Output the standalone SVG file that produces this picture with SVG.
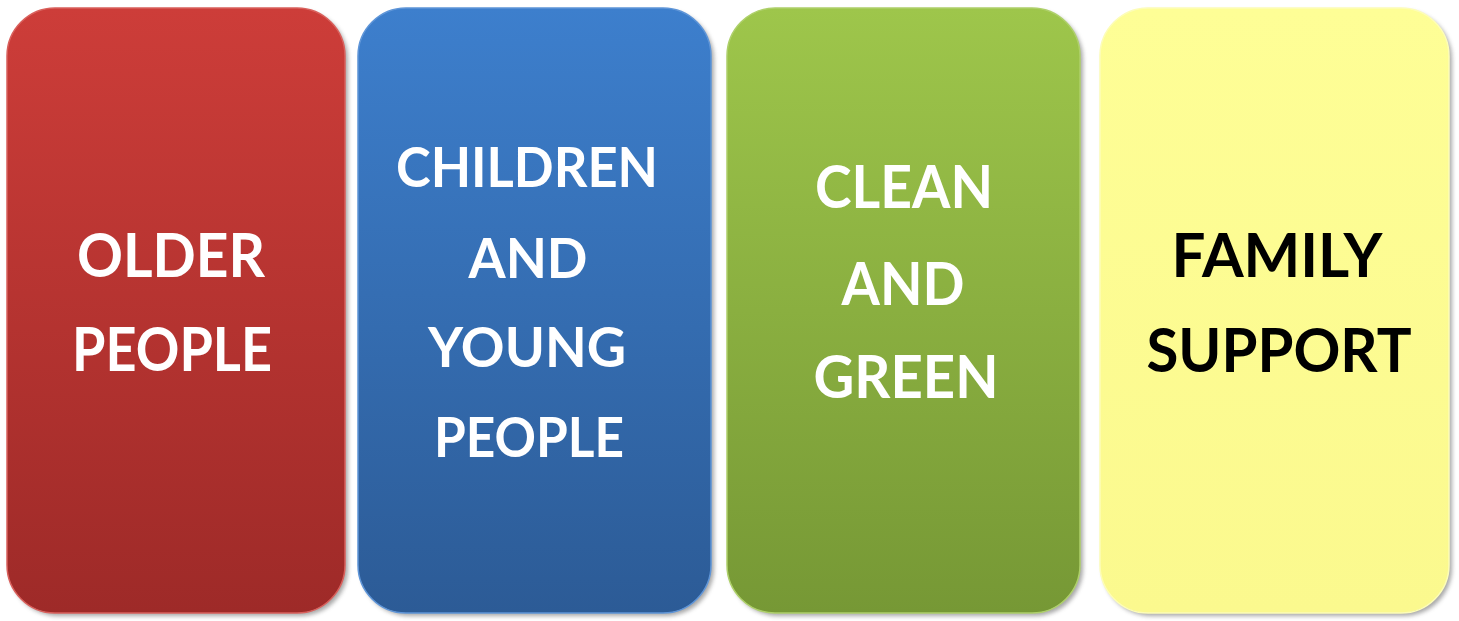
<svg xmlns="http://www.w3.org/2000/svg" width="1459" height="621" viewBox="0 0 1459 621">
  <defs>
    <linearGradient id="gRed" x1="0" y1="0" x2="0" y2="1">
      <stop offset="0" stop-color="#cd3d39"/>
      <stop offset="1" stop-color="#9e2a28"/>
    </linearGradient>
    <linearGradient id="gBlue" x1="0" y1="0" x2="0" y2="1">
      <stop offset="0" stop-color="#3d7fcd"/>
      <stop offset="1" stop-color="#2c5b96"/>
    </linearGradient>
    <linearGradient id="gGreen" x1="0" y1="0" x2="0" y2="1">
      <stop offset="0" stop-color="#9ec64b"/>
      <stop offset="1" stop-color="#769835"/>
    </linearGradient>
    <linearGradient id="gYellow" x1="0" y1="0" x2="0" y2="1">
      <stop offset="0" stop-color="#fefe96"/>
      <stop offset="1" stop-color="#fbf98e"/>
    </linearGradient>
    <filter id="shadow" x="-10%" y="-10%" width="120%" height="120%">
      <feGaussianBlur stdDeviation="2"/>
    </filter>
  </defs>
  <style>
    .shd { fill: #8a8a8a; opacity: 0.75; filter: url(#shadow); }
    .lbl { font-family: Lato, "Open Sans", "Liberation Sans", sans-serif; font-weight: bold; text-anchor: middle; }
    .big { font-size: 61px; }
    .mid { font-size: 60px; }
    .sml { font-size: 56px; }
    .w { fill: #ffffff; }
    .k { fill: #000000; }
  </style>
  <rect width="1459" height="621" fill="#ffffff"/>

  <g id="older-people">
    <rect class="shd" x="10" y="11" width="338" height="605" rx="48"/>
    <rect x="7" y="8" width="338" height="605" rx="48" fill="url(#gRed)" stroke="#d9605c" stroke-width="1.5"/>
    <text class="lbl big w" x="171" y="277" textLength="188" lengthAdjust="spacingAndGlyphs">OLDER</text>
    <text class="lbl big w" x="172" y="371" textLength="200" lengthAdjust="spacingAndGlyphs">PEOPLE</text>
  </g>

  <g id="children-young-people">
    <rect class="shd" x="361" y="11" width="353" height="605" rx="48"/>
    <rect x="358" y="8" width="353" height="605" rx="48" fill="url(#gBlue)" stroke="#5e95d8" stroke-width="1.5"/>
    <text class="lbl sml w" x="527" y="187" textLength="262" lengthAdjust="spacingAndGlyphs">CHILDREN</text>
    <text class="lbl sml w" x="528" y="278" textLength="119" lengthAdjust="spacingAndGlyphs">AND</text>
    <text class="lbl sml w" x="527" y="367" textLength="198" lengthAdjust="spacingAndGlyphs">YOUNG</text>
    <text class="lbl sml w" x="529" y="457" textLength="190" lengthAdjust="spacingAndGlyphs">PEOPLE</text>
  </g>

  <g id="clean-green">
    <rect class="shd" x="730" y="11" width="353" height="605" rx="48"/>
    <rect x="727" y="8" width="353" height="605" rx="48" fill="url(#gGreen)" stroke="#aed06a" stroke-width="1.5"/>
    <text class="lbl mid w" x="904" y="208" textLength="178" lengthAdjust="spacingAndGlyphs">CLEAN</text>
    <text class="lbl mid w" x="903" y="305" textLength="123" lengthAdjust="spacingAndGlyphs">AND</text>
    <text class="lbl mid w" x="906" y="398" textLength="185" lengthAdjust="spacingAndGlyphs">GREEN</text>
  </g>

  <g id="family-support">
    <rect class="shd" x="1103" y="11" width="349" height="605" rx="48"/>
    <rect x="1100" y="8" width="349" height="605" rx="48" fill="url(#gYellow)" stroke="#fdfdb8" stroke-width="1.5"/>
    <text class="lbl big k" x="1277" y="277" textLength="211" lengthAdjust="spacingAndGlyphs">FAMILY</text>
    <text class="lbl big k" x="1279" y="372" textLength="265" lengthAdjust="spacingAndGlyphs">SUPPORT</text>
  </g>

  <g id="connectors"/>
</svg>
